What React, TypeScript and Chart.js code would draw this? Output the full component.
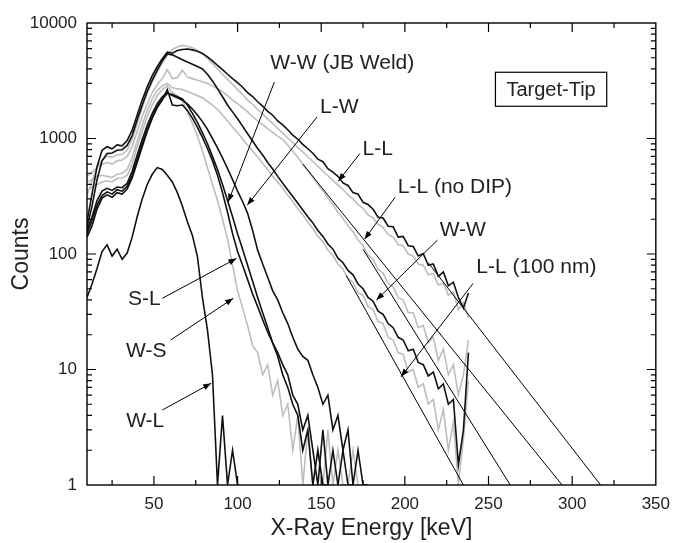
import React, { useEffect, useRef } from "react";
import { Chart, registerables } from "chart.js";

Chart.register(...registerables);

// Energy grid (keV)
const energy = [
  10, 13, 16, 19, 22, 25, 28, 31, 34, 37,
  40, 43, 46, 49, 52, 55, 58, 61, 64, 67,
  70, 73, 76, 79, 82, 85, 88, 91, 94, 97,
  100, 103, 106, 109, 112, 115, 118, 121, 124, 127,
  130, 133, 136, 139, 142, 145, 148, 151, 154, 157,
  160, 163, 166, 169, 172, 175, 178, 181, 184, 187,
  190, 193, 196, 199, 202, 205, 208, 211, 214, 217,
  220, 223, 226, 229, 232, 235, 238,
];

// Black spectra
const llCounts = [
  190, 330, 570, 790, 850, 815, 880, 865, 960, 1180,
  1600, 2150, 2800, 3500, 4200, 4900, 5600, 5480, 5780, 5900,
  5950, 5850, 5700, 5450, 5100, 4700, 4300, 3950, 3600, 3300,
  3050, 2780, 2500, 2310, 2080, 1910, 1720, 1590, 1420, 1310,
  1190, 1070, 985, 890, 815, 745, 662, 630, 548, 512,
  470, 412, 392, 340, 330, 280, 268, 244, 208, 205,
  174, 172, 140, 142, 118, 116, 96, 101, 80, 82,
  64, 70, 53, 57, 42, 34, 46,
];
const wwCounts = [
  170, 260, 440, 640, 740, 750, 790, 800, 870, 1060,
  1450, 1950, 2550, 3200, 3900, 4700, 5400, 5300, 5050, 4800,
  4600, 4400, 4200, 4000, 3600, 3150, 2700, 2300, 1950, 1700,
  1480, 1280, 1100, 950, 820, 720, 620, 545, 470, 410,
  358, 315, 275, 240, 210, 186, 160, 142, 122, 110,
  92, 84, 72, 66, 55, 50, 42, 39, 32, 30,
  25, 23, 19, 18, 14.5, 15, 11.5, 11, 8.8, 9.5,
  6.8, 7.5, 5, 5.5, 1.5, 3, 14,
];
const jbCounts = [
  150, 195, 265, 320, 345, 330, 360, 350, 385, 480,
  660, 900, 1200, 1550, 1900, 2200, 2450, 2400, 2300, 2200,
  1950, 1650, 1380, 1120, 900, 700, 540, 400, 290, 210,
  150, 110, 80, 58, 42, 31, 23, 17, 13, 9,
  7, 5, 4, 2, 3, 1, 2, 1, 1,
];
const lwCounts = [
  160, 210, 290, 350, 370, 355, 380, 375, 410, 520,
  720, 980, 1300, 1650, 2000, 2300, 2500, 2350, 2250, 2150,
  2000, 1800, 1600, 1400, 1200, 1000, 830, 680, 550, 440,
  350, 285, 225, 160, 108, 82, 63, 48, 40, 31,
  25, 19, 15, 13, 12, 9, 7, 5, 6, 3,
  4, 2, 3, 1, 2, 1, 1,
];
const slCounts = [
  140, 175, 245, 305, 325, 310, 340, 330, 365, 455,
  620, 850, 1150, 1500, 1850, 2150, 2650, 1950, 1920, 1950,
  1750, 1500, 1250, 1020, 820, 640, 480, 340, 230, 150,
  105, 80, 60, 45, 35, 27, 21, 17, 14, 11,
  9, 6, 5, 3, 4, 2, 1, 3, 1, 2,
  1, 2, 1, 1,
];
const wlCounts = [
  42, 55, 75, 105, 120, 96, 110, 90, 102, 140,
  210, 300, 400, 490, 560, 540, 480, 420, 340, 260,
  190, 145, 95, 42, 22, 9, 1, 4, 1, 2,
  1,
];

// Grey spectra
const llGreyCounts = [
  320, 430, 560, 650, 700, 690, 720, 730, 790, 980,
  1350, 1850, 2450, 3100, 3800, 4500, 5300, 5900, 6200, 6400,
  6300, 6100, 5800, 5400, 4950, 4450, 4000, 3600, 3250, 2950,
  2650, 2400, 2150, 1980, 1780, 1630, 1470, 1350, 1220, 1110,
  1010, 925, 835, 765, 695, 632, 575, 522, 476, 434,
  395, 362, 325, 300, 268, 248, 218, 205, 180, 170,
  148, 140, 120, 118, 100, 96, 82, 80, 66, 68,
  54, 56, 44, 47, 33, 38, 28,
];
const noDipCounts = [
  470, 510, 560, 600, 620, 600, 640, 650, 700, 850,
  1150, 1550, 2000, 2500, 2950, 3300, 3950, 3300, 3350, 3900,
  3400, 3300, 3200, 3100, 3000, 2850, 2700, 2550, 2350, 2150,
  2000, 1850, 1700, 1550, 1420, 1320, 1220, 1130, 1050, 980,
  880, 775, 688, 602, 528, 462, 400, 352, 306, 268,
  230, 204, 176, 156, 132, 118, 98, 90, 74, 68,
  56, 52, 42, 40, 31, 31, 23, 24, 17, 19,
  12, 15, 9, 11, 6, 9, 18,
];
const nm100Counts = [
  420, 440, 470, 480, 470, 460, 490, 500, 540, 680,
  950, 1300, 1750, 2200, 2600, 2850, 3000, 2750, 2700, 2650,
  2550, 2450, 2350, 2250, 2100, 1950, 1780, 1600, 1420, 1260,
  1120, 990, 880, 780, 690, 610, 540, 470, 420, 370,
  322, 285, 248, 218, 188, 166, 142, 128, 108, 97,
  82, 74, 61, 57, 46, 44, 35, 33, 26, 25,
  19, 18, 14, 13.5, 9.5, 10, 7, 7.5, 5, 5.5,
  3, 4.5, 2, 3.5, 1, 2.5, 8,
];
const wsCounts = [
  350, 380, 400, 420, 430, 420, 450, 455, 480, 600,
  850, 1150, 1550, 1950, 2350, 2650, 2850, 2500, 2350, 2100,
  1700, 1350, 1050, 780, 560, 400, 290, 200, 135, 80,
  48, 34, 24, 16, 14, 9, 11, 6, 8, 4,
  5, 2, 4, 1, 3, 1, 2, 1, 3, 1,
  2, 1, 1, 2, 1,
];

// Exponential fit lines (start point and end point)
const fitStartX = [214, 139, 175, 165];
const fitStartY = [84, 600, 110, 65];
const fitEndX = [317, 294, 263, 235];
const fitEndY = [1, 1, 1, 1];

// Axes
const xTickValues = [50, 100, 150, 200, 250, 300, 350];
const xMinorTickValues = [25, 75, 125, 175, 225, 275, 325];
const yTickValues = [1, 10, 100, 1000, 10000];
const yMinorMultipliers = [2, 3, 4, 5, 6, 7, 8, 9];

// Annotations (data coordinates)
const labelTexts = ["W-W (JB Weld)", "L-W", "L-L", "L-L (no DIP)", "W-W", "L-L (100 nm)", "S-L", "W-S", "W-L"];
const labelX = [162.6, 160.8, 183.8, 229.9, 234.6, 278.6, 44.2, 45.4, 44.8];
const labelY = [4480, 1865, 808, 379, 161, 77, 40.7, 14.4, 3.58];
const arrowFromX = [122.0, 147.5, 173.1, 194.2, 219.5, 240.8, 55.0, 60.0, 55.0];
const arrowFromY = [3087, 1537, 741, 310, 132, 55.6, 41.3, 18.0, 4.46];
const arrowToX = [94.4, 105.8, 160.2, 175.9, 183.0, 197.7, 99.3, 97.4, 84.2];
const arrowToY = [283, 265, 427, 134.5, 39.9, 8.65, 91.5, 41.3, 7.59];
const boxText = "Target-Tip";
const boxX = 287.4;
const boxY = 2669;

const FONT = "'Liberation Sans', Arial, sans-serif";
const BLACK = "#111111";
const GREY = "#bdbdbd";

const toPoints = (vals: number[]) => vals.map((y, i) => ({ x: energy[i], y }));

const overlay = {
  id: "overlay",
  afterDatasetsDraw(chart: any) {
    const { ctx, chartArea: a, scales } = chart;
    const xs = scales.x;
    const ys = scales.y;
    ctx.save();
    ctx.strokeStyle = "#000";
    ctx.lineWidth = 1.4;
    ctx.strokeRect(a.left, a.top, a.right - a.left, a.bottom - a.top);
    ctx.lineWidth = 1.2;
    ctx.beginPath();
    const seg = (x1: number, y1: number, x2: number, y2: number) => {
      ctx.moveTo(x1, y1);
      ctx.lineTo(x2, y2);
    };
    for (const v of xTickValues) {
      const p = xs.getPixelForValue(v);
      if (p < a.right - 1) {
        seg(p, a.bottom, p, a.bottom - 9);
        seg(p, a.top, p, a.top + 9);
      }
    }
    for (const v of xMinorTickValues) {
      const p = xs.getPixelForValue(v);
      seg(p, a.bottom, p, a.bottom - 5);
      seg(p, a.top, p, a.top + 5);
    }
    for (const v of yTickValues) {
      const p = ys.getPixelForValue(v);
      if (p > a.top + 1 && p < a.bottom - 1) {
        seg(a.left, p, a.left + 9, p);
        seg(a.right, p, a.right - 9, p);
      }
    }
    for (const d of yTickValues.slice(0, -1)) {
      for (const m of yMinorMultipliers) {
        const p = ys.getPixelForValue(d * m);
        seg(a.left, p, a.left + 5, p);
        seg(a.right, p, a.right - 5, p);
      }
    }
    ctx.stroke();

    // labels and arrows
    ctx.font = `21px ${FONT}`;
    ctx.textAlign = "center";
    ctx.textBaseline = "middle";
    labelTexts.forEach((t, i) => {
      ctx.fillStyle = "#222";
      ctx.fillText(t, xs.getPixelForValue(labelX[i]), ys.getPixelForValue(labelY[i]));
      const x1 = xs.getPixelForValue(arrowFromX[i]);
      const y1 = ys.getPixelForValue(arrowFromY[i]);
      const x2 = xs.getPixelForValue(arrowToX[i]);
      const y2 = ys.getPixelForValue(arrowToY[i]);
      ctx.strokeStyle = "#000";
      ctx.lineWidth = 1;
      ctx.beginPath();
      ctx.moveTo(x1, y1);
      ctx.lineTo(x2, y2);
      ctx.stroke();
      const ang = Math.atan2(y2 - y1, x2 - x1);
      const L = 8;
      const W = 3;
      ctx.fillStyle = "#000";
      ctx.beginPath();
      ctx.moveTo(x2, y2);
      ctx.lineTo(x2 - L * Math.cos(ang) + W * Math.sin(ang), y2 - L * Math.sin(ang) - W * Math.cos(ang));
      ctx.lineTo(x2 - L * Math.cos(ang) - W * Math.sin(ang), y2 - L * Math.sin(ang) + W * Math.cos(ang));
      ctx.closePath();
      ctx.fill();
    });

    // boxed label
    ctx.font = `20px ${FONT}`;
    const bx = xs.getPixelForValue(boxX);
    const by = ys.getPixelForValue(boxY);
    const w = ctx.measureText(boxText).width;
    ctx.fillStyle = "#fff";
    ctx.fillRect(bx - w / 2 - 11, by - 17, w + 22, 34);
    ctx.strokeStyle = "#000";
    ctx.lineWidth = 1.2;
    ctx.strokeRect(bx - w / 2 - 11, by - 17, w + 22, 34);
    ctx.fillStyle = "#222";
    ctx.fillText(boxText, bx, by + 1);
    ctx.restore();
  },
};

export default function App() {
  const ref = useRef<HTMLCanvasElement | null>(null);
  useEffect(() => {
    if (!ref.current) return;
    const black = (label: string, vals: number[]) => ({
      label,
      data: toPoints(vals),
      borderColor: BLACK,
      borderWidth: 1.6,
      pointRadius: 0,
      tension: 0,
      order: 0,
    });
    const grey = (label: string, vals: number[]) => ({
      label,
      data: toPoints(vals),
      borderColor: GREY,
      borderWidth: 1.6,
      pointRadius: 0,
      tension: 0,
      order: 2,
    });
    const fits = fitStartX.map((sx, i) => ({
      label: `fit ${i + 1}`,
      data: [
        { x: sx, y: fitStartY[i] },
        { x: fitEndX[i], y: fitEndY[i] },
      ],
      borderColor: "#000",
      borderWidth: 1,
      pointRadius: 0,
      tension: 0,
      order: 1,
    }));
    const chart = new Chart(ref.current, {
      type: "line",
      data: {
        datasets: [
          black("L-L", llCounts),
          black("W-W", wwCounts),
          black("W-W (JB Weld)", jbCounts),
          black("L-W", lwCounts),
          black("S-L", slCounts),
          black("W-L", wlCounts),
          ...fits,
          grey("L-L (grey)", llGreyCounts),
          grey("L-L (no DIP)", noDipCounts),
          grey("L-L (100 nm)", nm100Counts),
          grey("W-S", wsCounts),
        ] as any,
      },
      options: {
        animation: false,
        responsive: false,
        devicePixelRatio: 1,
        parsing: false as any,
        normalized: true,
        spanGaps: false,
        layout: { padding: { left: 0, top: 23, right: 16, bottom: 0 } },
        plugins: { legend: { display: false }, tooltip: { enabled: false } },
        scales: {
          x: {
            type: "linear",
            min: 10,
            max: 350,
            grid: { display: false, drawTicks: false },
            border: { display: false },
            afterBuildTicks: (s: any) => {
              s.ticks = xTickValues.map((v) => ({ value: v }));
            },
            afterFit: (s: any) => {
              s.height = 58;
            },
            ticks: {
              autoSkip: false,
              maxRotation: 0,
              padding: 9,
              color: "#222",
              font: { family: FONT, size: 17 },
              callback: (v: any) => String(v),
            },
            title: {
              display: true,
              text: "X-Ray Energy [keV]",
              color: "#222",
              font: { family: FONT, size: 23 },
              padding: { top: 0, bottom: 1 },
            },
          },
          y: {
            type: "logarithmic",
            min: 1,
            max: 10000,
            grid: { display: false, drawTicks: false },
            border: { display: false },
            afterBuildTicks: (s: any) => {
              s.ticks = yTickValues.map((v) => ({ value: v }));
            },
            afterFit: (s: any) => {
              s.width = 87;
            },
            ticks: {
              autoSkip: false,
              padding: 10,
              color: "#222",
              font: { family: FONT, size: 17 },
              callback: (v: any) => String(v),
            },
            title: {
              display: true,
              text: "Counts",
              color: "#222",
              font: { family: FONT, size: 23 },
              padding: { top: 8, bottom: 0 },
            },
          },
        },
      } as any,
      plugins: [overlay],
    });
    return () => chart.destroy();
  }, []);
  return (
    <div style={{ position: "absolute", left: 0, top: 0, width: 679, height: 543, background: "#fff" }}>
      <canvas ref={ref} width={679} height={543} style={{ display: "block" }} />
    </div>
  );
}
